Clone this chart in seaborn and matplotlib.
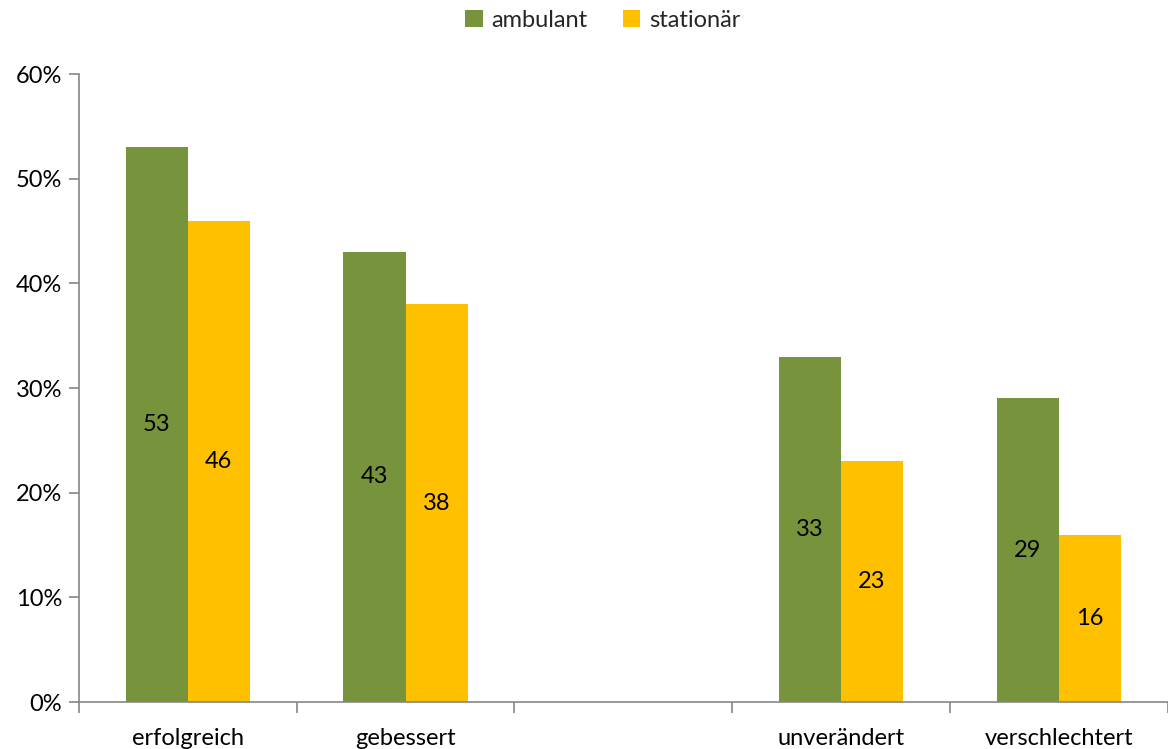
import matplotlib
matplotlib.use("Agg")
import matplotlib.pyplot as plt
from matplotlib.ticker import FuncFormatter, FixedLocator
import seaborn as sns
import pandas as pd

categories = ["erfolgreich", "gebessert", " ", "unverändert", "verschlechtert"]
outcome_cats = ["erfolgreich", "gebessert", "unverändert", "verschlechtert"]
ambulant = [53, 43, 33, 29]
stationaer = [46, 38, 23, 16]
series = ["ambulant", "stationär"]
colors = {"ambulant": "#77933C", "stationär": "#FFC000"}

df = pd.DataFrame({
    "Kategorie": outcome_cats * 2,
    "Wert": ambulant + stationaer,
    "Behandlung": [series[0]] * len(outcome_cats) + [series[1]] * len(outcome_cats),
})

sns.set_theme(style="white")
plt.rcParams["font.family"] = ["Lato", "DejaVu Sans"]

fig = plt.figure(figsize=(11.68, 7.49), dpi=100)
ax = fig.add_axes([0.0676, 0.0627, 0.932, 0.8385])

sns.barplot(data=df, x="Kategorie", y="Wert", hue="Behandlung", order=categories,
            hue_order=series, palette=colors, width=0.57, gap=0, saturation=1,
            linewidth=0, ax=ax, legend=True)

for cont in ax.containers:
    ax.bar_label(cont, labels=[f"{v:.0f}" for v in cont.datavalues],
                 label_type="center", fontsize=17, color="#000000")

ax.set_ylim(0, 60)
ax.set_xlim(-0.5, 4.5)
ax.set_yticks(range(0, 61, 10))
ax.yaxis.set_major_formatter(FuncFormatter(lambda v, p: f"{v:.0f}%"))
ax.set_xlabel("")
ax.set_ylabel("")

ax.xaxis.set_minor_locator(FixedLocator([-0.5 + i for i in range(6)]))
ax.tick_params(axis="x", which="major", length=0, pad=19, labelsize=17, colors="#000000")
ax.tick_params(axis="x", which="minor", length=8, width=1.2, color="#868686", bottom=True)
ax.tick_params(axis="y", which="major", length=7, width=1.2, color="#868686",
               labelsize=17, labelcolor="#000000", left=True, pad=5)

for side in ["top", "right"]:
    ax.spines[side].set_visible(False)
for side in ["left", "bottom"]:
    ax.spines[side].set_color("#868686")
    ax.spines[side].set_linewidth(1.2)

handles, labels = ax.get_legend_handles_labels()
ax.get_legend().remove()
fig.legend(handles, labels, loc="center", bbox_to_anchor=(0.516, 0.973), ncol=2,
           frameon=False, fontsize=17, handlelength=0.75, handleheight=0.75,
           handletextpad=0.35, columnspacing=1.5)

fig.savefig("out.png", dpi=100)
